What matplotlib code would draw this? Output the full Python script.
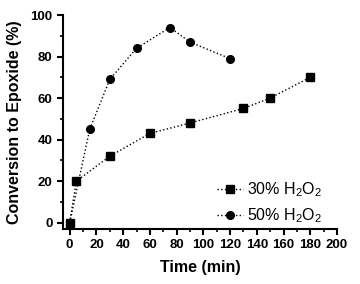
import matplotlib
matplotlib.use('Agg')
import matplotlib.pyplot as plt
from matplotlib.ticker import MultipleLocator

plt.rcParams['font.family'] = ['Liberation Sans', 'DejaVu Sans']

t30 = [0, 5, 30, 60, 90, 130, 150, 180]
c30 = [0, 20, 32, 43, 48, 55, 60, 70]
t50 = [0, 15, 30, 50, 75, 90, 120]
c50 = [0, 45, 69, 84, 94, 87, 79]

fig = plt.figure(figsize=(3.6, 2.84), dpi=100)
ax = fig.add_axes([0.175, 0.194, 0.761, 0.753])

ax.plot(t30, c30, 'k:', marker='s', markersize=5.5, linewidth=1,
        label=r'30% H$\mathregular{_2}$O$\mathregular{_2}$')
ax.plot(t50, c50, 'k:', marker='o', markersize=5.5, linewidth=1,
        label=r'50% H$\mathregular{_2}$O$\mathregular{_2}$')

ax.set_xlim(-5, 200)
ax.set_ylim(-3, 100)
ax.xaxis.set_major_locator(MultipleLocator(20))
ax.xaxis.set_minor_locator(MultipleLocator(10))
ax.yaxis.set_major_locator(MultipleLocator(20))
ax.yaxis.set_minor_locator(MultipleLocator(10))
for s in ['top', 'right']:
    ax.spines[s].set_visible(False)
for s in ['left', 'bottom']:
    ax.spines[s].set_linewidth(1.5)
ax.tick_params(which='major', direction='out', length=4, width=1.5, labelsize=9.5)
ax.tick_params(which='minor', direction='out', length=2.5, width=1.2)
for lab in ax.get_xticklabels() + ax.get_yticklabels():
    lab.set_fontweight('bold')

ax.set_xlabel('Time (min)', fontsize=11.5, fontweight='bold', labelpad=6)
ax.set_ylabel('Conversion to Epoxide (%)', fontsize=11.5, fontweight='bold', labelpad=6)

ax.legend(loc='lower right', frameon=False, fontsize=11.5, handlelength=1.6,
          handletextpad=0.3, labelspacing=0.45, bbox_to_anchor=(1.0, -0.05))

fig.savefig('out.png', dpi=100)
